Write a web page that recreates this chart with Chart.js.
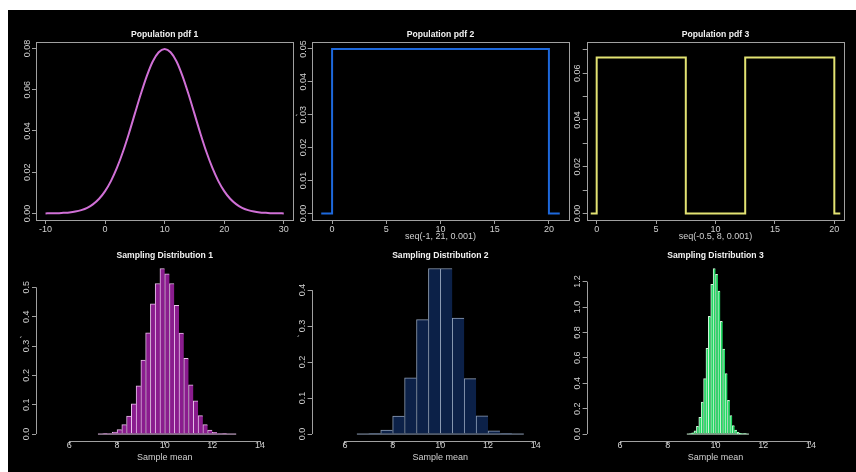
<!DOCTYPE html>
<html>
<head>
<meta charset="utf-8">
<script src="https://cdn.jsdelivr.net/npm/chart.js@4.4.0/dist/chart.umd.min.js"></script>
<style>
  body { margin: 0; background: #fff; }
  #frame { position: absolute; left: 8px; top: 10px; width: 848px; height: 462px; background: #000; }
  canvas { position: absolute; }
</style>
</head>
<body>
<div id="frame"></div>
<canvas id="pdf1"></canvas>
<canvas id="pdf2"></canvas>
<canvas id="pdf3"></canvas>
<canvas id="hist1"></canvas>
<canvas id="hist2"></canvas>
<canvas id="hist3"></canvas>
<script>
// population pdf 1 (bell curve)
const pdf1X = [-10, -9, -8, -7, -6, -5, -4, -3, -2, -1, 0, 1, 2, 3, 4, 5, 6, 7, 8, 9, 10,
  11, 12, 13, 14, 15, 16, 17, 18, 19, 20, 21, 22, 23, 24, 25, 26, 27, 28, 29, 30];
const pdf1Y = [0.0000, 0.0001, 0.0001, 0.0003, 0.0005, 0.0009, 0.0016, 0.0027, 0.0045, 0.0071,
  0.0108, 0.0158, 0.0222, 0.0299, 0.0388, 0.0484, 0.0579, 0.0666, 0.0737, 0.0782, 0.0798,
  0.0782, 0.0737, 0.0666, 0.0579, 0.0484, 0.0388, 0.0299, 0.0222, 0.0158, 0.0108,
  0.0071, 0.0045, 0.0027, 0.0016, 0.0009, 0.0005, 0.0003, 0.0001, 0.0001, 0.0000];

// population pdf 2 and 3 (step shapes)
const pdf2X = [-1, 0, 0, 20, 20, 21];
const pdf2Y = [0, 0, 0.05, 0.05, 0, 0];
const pdf3X = [-0.5, 0, 0, 7.5, 7.5, 12.5, 12.5, 20, 20, 20.5];
const pdf3Y = [0, 0, 0.0667, 0.0667, 0, 0, 0.0667, 0.0667, 0, 0];

// sampling distributions, histogram breaks and densities
const hist1Breaks = [7.2, 7.4, 7.6, 7.8, 8.0, 8.2, 8.4, 8.6, 8.8, 9.0, 9.2, 9.4, 9.6, 9.8, 10.0,
  10.2, 10.4, 10.6, 10.8, 11.0, 11.2, 11.4, 11.6, 11.8, 12.0, 12.2, 12.4, 12.6, 12.8, 13.0];
const hist1Density = [0.000, 0.001, 0.002, 0.007, 0.015, 0.032, 0.061, 0.103, 0.164, 0.252,
  0.345, 0.444, 0.513, 0.564, 0.546, 0.513, 0.439, 0.344, 0.258, 0.168, 0.113, 0.063, 0.032,
  0.014, 0.006, 0.002, 0.001, 0.000, 0.000];

const hist2Breaks = [6.5, 7.0, 7.5, 8.0, 8.5, 9.0, 9.5, 10.0, 10.5, 11.0, 11.5, 12.0, 12.5, 13.0, 13.5];
const hist2Density = [0.000, 0.002, 0.011, 0.050, 0.156, 0.318, 0.460, 0.460, 0.322, 0.154,
  0.051, 0.009, 0.002, 0.000];

const hist3Breaks = [8.8, 8.9, 9.0, 9.1, 9.2, 9.3, 9.4, 9.5, 9.6, 9.7, 9.8, 9.9, 10.0, 10.1, 10.2,
  10.3, 10.4, 10.5, 10.6, 10.7, 10.8, 10.9, 11.0, 11.1, 11.2, 11.3, 11.4];
const hist3Density = [0.000, 0.003, 0.010, 0.026, 0.061, 0.132, 0.252, 0.437, 0.675, 0.927,
  1.179, 1.303, 1.258, 1.126, 0.887, 0.668, 0.477, 0.265, 0.146, 0.066, 0.032, 0.013, 0.005,
  0.002, 0.001, 0.000];

// tick labels
const pdf1XTicks = [-10, 0, 10, 20, 30];
const pdf1YTicks = [0, 0.02, 0.04, 0.06, 0.08];
const pdf2XTicks = [0, 5, 10, 15, 20];
const pdf2YTicks = [0, 0.01, 0.02, 0.03, 0.04, 0.05];
const pdf3XTicks = [0, 5, 10, 15, 20];
const pdf3YTicks = [0, 0.01, 0.02, 0.03, 0.04, 0.05, 0.06, 0.07];
const pdf3YShown = [0, 0.02, 0.04, 0.06];
const histXTicks = [6, 8, 10, 12, 14];
const hist1YTicks = [0, 0.1, 0.2, 0.3, 0.4, 0.5];
const hist2YTicks = [0, 0.1, 0.2, 0.3, 0.4];
const hist3YTicks = [0, 0.2, 0.4, 0.6, 0.8, 1.0, 1.2];

const FONT = "'Liberation Sans', Arial, Helvetica, sans-serif";
const GREY = '#a0a0a0';
const TICK_TEXT = '#d0d0d0';
const TITLE_TEXT = '#f2f2f2';

function points(xs, ys) {
  return xs.map((x, i) => ({x: x, y: ys[i]}));
}

function mids(breaks, dens) {
  return dens.map((d, i) => ({x: (breaks[i] + breaks[i + 1]) / 2, y: d}));
}

// draws the frame (top row) or the R-style axis lines (bottom row), the title and the stray ylab mark
const rPanel = {
  id: 'rpanel',
  afterDraw(chart, args, opts) {
    const {ctx, chartArea: a, scales} = chart;
    ctx.save();
    ctx.strokeStyle = GREY;
    ctx.lineWidth = 1;
    if (opts.box) {
      const l = Math.round(a.left) + 0.5, t = Math.round(a.top) + 0.5;
      ctx.strokeRect(l, t, Math.round(a.right) - Math.round(a.left), Math.round(a.bottom) - Math.round(a.top));
    } else {
      const xt = scales.x.ticks, yt = scales.y.ticks;
      const yb = Math.round(a.bottom) + 0.5, xl = Math.round(a.left) + 0.5;
      ctx.beginPath();
      ctx.moveTo(scales.x.getPixelForValue(xt[0].value), yb);
      ctx.lineTo(scales.x.getPixelForValue(xt[xt.length - 1].value), yb);
      ctx.moveTo(xl, scales.y.getPixelForValue(yt[0].value));
      ctx.lineTo(xl, scales.y.getPixelForValue(yt[yt.length - 1].value));
      ctx.stroke();
    }
    ctx.fillStyle = TITLE_TEXT;
    ctx.font = 'bold 8.6px ' + FONT;
    ctx.textAlign = 'center';
    ctx.textBaseline = 'middle';
    ctx.fillText(opts.title, (a.left + a.right) / 2, a.top - opts.titleGap);
    if (opts.mark) {
      ctx.fillStyle = TICK_TEXT;
      ctx.font = '9px ' + FONT;
      ctx.fillText('\u00b4', a.left - opts.mark[0], a.top + opts.mark[1]);
    }
    ctx.restore();
  }
};

function panel(id, cfg) {
  const cv = document.getElementById(id);
  const c = cfg.canvas, a = cfg.area;
  cv.width = c.w;
  cv.height = c.h;
  cv.style.left = c.x + 'px';
  cv.style.top = c.y + 'px';
  const axisW = a.l - c.x;
  const axisH = c.y + c.h - a.b;
  const grid = {display: true, drawOnChartArea: false, drawTicks: true, tickLength: 4, color: GREY, lineWidth: 1, offset: false};
  return new Chart(cv, {
    type: cfg.type,
    data: {datasets: cfg.datasets},
    options: {
      responsive: false,
      animation: false,
      events: [],
      layout: {padding: {left: 0, bottom: 0, top: a.t - c.y, right: c.x + c.w - a.r}},
      plugins: {
        legend: {display: false},
        tooltip: {enabled: false},
        rpanel: {title: cfg.title, box: cfg.box, titleGap: cfg.titleGap, mark: cfg.mark}
      },
      scales: {
        x: {
          type: 'linear', min: cfg.xMin, max: cfg.xMax, offset: false,
          afterBuildTicks: s => { s.ticks = cfg.xTicks.map(v => ({value: v})); },
          afterFit: s => { s.height = axisH; },
          grid: grid,
          border: {display: false},
          ticks: {color: TICK_TEXT, font: {family: FONT, size: 9}, padding: cfg.xPad, autoSkip: false,
            maxRotation: 0, minRotation: 0, callback: v => String(v)},
          title: {display: !!cfg.xTitle, text: cfg.xTitle, color: TICK_TEXT,
            font: {family: FONT, size: 9, lineHeight: 1}, padding: {top: 0, bottom: cfg.xTitlePad}}
        },
        y: {
          type: 'linear', min: cfg.yMin, max: cfg.yMax,
          afterBuildTicks: s => { s.ticks = cfg.yTicks.map(v => ({value: v})); },
          afterFit: s => { s.width = axisW; },
          grid: grid,
          border: {display: false},
          ticks: {color: TICK_TEXT, font: {family: FONT, size: 9}, padding: cfg.yPad, autoSkip: false,
            minRotation: 90, maxRotation: 90, crossAlign: 'center', callback: cfg.yFmt}
        }
      }
    },
    plugins: [rPanel]
  });
}

function lineSet(xs, ys, color, smooth) {
  return {type: 'line', data: points(xs, ys), borderColor: color, borderWidth: 2, pointRadius: 0,
    tension: smooth ? 0.4 : 0, cubicInterpolationMode: smooth ? 'monotone' : 'default', fill: false};
}

function histSets(breaks, dens, fill, edge) {
  return [
    {type: 'line', order: 0, data: [{x: breaks[0], y: 0}, {x: breaks[breaks.length - 1], y: 0}],
      borderColor: edge, borderWidth: 1, pointRadius: 0, fill: false},
    {type: 'bar', order: 1, data: mids(breaks, dens), backgroundColor: fill, borderColor: edge,
      borderWidth: {top: 1, left: 1, right: 0, bottom: 0}, borderSkipped: false,
      barPercentage: 1, categoryPercentage: 1, grouped: false}
  ];
}

const fmt2 = v => v.toFixed(2);
const fmt1 = v => v.toFixed(1);

const topY = 10, topH = 236, botY = 241, botH = 231;

panel('pdf1', {
  type: 'line', title: 'Population pdf 1', box: true, titleGap: 7.3,
  canvas: {x: 8, y: topY, w: 290, h: topH}, area: {l: 36, t: 42.3, r: 293.3, b: 220},
  datasets: [lineSet(pdf1X, pdf1Y, '#d070d6', true)],
  xMin: -11.6, xMax: 31.6, xTicks: pdf1XTicks, xPad: 0,
  yMin: -0.00319, yMax: 0.0830, yTicks: pdf1YTicks, yFmt: fmt2, yPad: 8.5 - 4 - 8.8
});

panel('pdf2', {
  type: 'line', title: 'Population pdf 2', box: true, titleGap: 7.3, mark: [15, 76],
  canvas: {x: 290, y: topY, w: 285, h: topH}, area: {l: 311.7, t: 42.3, r: 569.3, b: 220},
  datasets: [lineSet(pdf2X, pdf2Y, '#1d68dc', false)],
  xMin: -1.88, xMax: 21.88, xTicks: pdf2XTicks, xPad: 0, xTitle: 'seq(-1, 21, 0.001)', xTitlePad: 4.5,
  yMin: -0.002, yMax: 0.052, yTicks: pdf2YTicks, yFmt: fmt2, yPad: 8.5 - 4 - 8.8
});

panel('pdf3', {
  type: 'line', title: 'Population pdf 3', box: true, titleGap: 7.3, mark: [10, 75],
  canvas: {x: 570, y: topY, w: 286, h: topH}, area: {l: 586.7, t: 42.3, r: 844.3, b: 220},
  datasets: [lineSet(pdf3X, pdf3Y, '#e2e272', false)],
  xMin: -0.84, xMax: 20.84, xTicks: pdf3XTicks, xPad: 0, xTitle: 'seq(-0.5, 8, 0.001)', xTitlePad: 4.5,
  yMin: -0.0028, yMax: 0.0732, yTicks: pdf3YTicks,
  yFmt: v => pdf3YShown.some(s => Math.abs(s - v) < 1e-9) ? v.toFixed(2) : '', yPad: 9.5 - 4 - 8.8
});

function histPanel(id, title, x, l, r, mark, breaks, dens, yTicks, fill, edge) {
  const peak = Math.max(...dens);
  panel(id, {
    type: 'bar', title: title, box: false, titleGap: 6.2, mark: mark,
    canvas: {x: x, y: botY, w: 290, h: botH}, area: {l: l, t: 261.9, r: r, b: 440.7},
    datasets: histSets(breaks, dens, fill, edge),
    xMin: 4.6, xMax: 15.4, xTicks: histXTicks, xPad: -4.5, xTitle: 'Sample mean', xTitlePad: 10.2,
    yMin: -0.04 * peak, yMax: 1.04 * peak, yTicks: yTicks, yFmt: fmt1, yPad: 9 - 4 - 6.25
  });
}

histPanel('hist1', 'Sampling Distribution 1', 8, 36, 293.4, [15, 79], hist1Breaks, hist1Density, hist1YTicks, '#8a1c8e', '#e8c2ea');
histPanel('hist2', 'Sampling Distribution 2', 290, 311.6, 569.1, [13, 78], hist2Breaks, hist2Density, hist2YTicks, '#0c2148', '#8e9eb6');
histPanel('hist3', 'Sampling Distribution 3', 566, 586.6, 844.4, [11, 79], hist3Breaks, hist3Density, hist3YTicks, '#20d862', '#cff5d8');
</script>
</body>
</html>
